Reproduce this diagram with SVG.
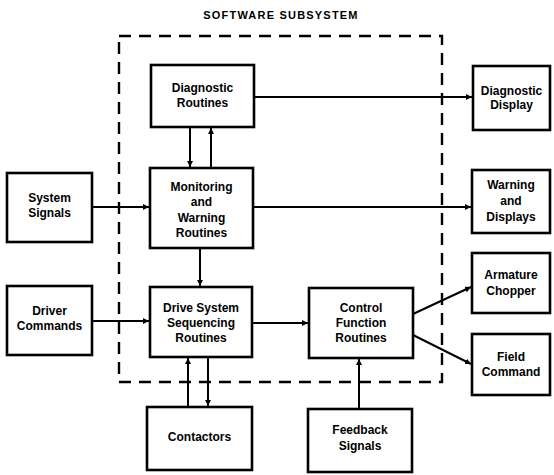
<svg xmlns="http://www.w3.org/2000/svg" width="554" height="475" viewBox="0 0 554 475">
<defs>
<style>
.box{fill:#fff;stroke:#000;stroke-width:2.6}
.lbl{font-family:"Liberation Sans",Arial,sans-serif;font-weight:bold;font-size:12px;text-anchor:middle;fill:#000}
.title{font-family:"Liberation Sans",Arial,sans-serif;font-weight:bold;font-size:11px;letter-spacing:1.2px;text-anchor:middle;fill:#000}
.c{fill:none;stroke:#000;stroke-width:2}
.dash{fill:none;stroke:#000;stroke-width:2.4;stroke-dasharray:12 8}
</style>
<marker id="ah" viewBox="0 0 10 10" refX="10" refY="5" markerWidth="6" markerHeight="6" markerUnits="userSpaceOnUse" orient="auto">
<path d="M0,0 L10,5 L0,10 z" fill="#000"/>
</marker>
</defs>
<rect width="554" height="475" fill="#fff"/>
<text class="title" x="281" y="19">SOFTWARE SUBSYSTEM</text>
<path id="subsystem" class="dash" d="M119,36 H442 V382 H119 Z"/>

<g id="connectors">
<line class="c" x1="254" y1="97" x2="472" y2="97" marker-end="url(#ah)"/>
<line class="c" x1="253" y1="207" x2="471" y2="207" marker-end="url(#ah)"/>
<line class="c" x1="92" y1="207" x2="149" y2="207" marker-end="url(#ah)"/>
<line class="c" x1="92" y1="321" x2="149" y2="321" marker-end="url(#ah)"/>
<line class="c" x1="252" y1="323" x2="308" y2="323" marker-end="url(#ah)"/>
<line class="c" x1="413" y1="314" x2="471" y2="287" marker-end="url(#ah)"/>
<line class="c" x1="413" y1="335" x2="471" y2="364" marker-end="url(#ah)"/>
<line class="c" x1="190" y1="127" x2="190" y2="167" marker-end="url(#ah)"/>
<line class="c" x1="211" y1="168" x2="211" y2="128" marker-end="url(#ah)"/>
<line class="c" x1="200" y1="248" x2="200" y2="286" marker-end="url(#ah)"/>
<line class="c" x1="188" y1="407" x2="188" y2="358" marker-end="url(#ah)"/>
<line class="c" x1="208" y1="357" x2="208" y2="406" marker-end="url(#ah)"/>
<line class="c" x1="359" y1="409" x2="359" y2="359" marker-end="url(#ah)"/>
</g>

<g id="diagnostic-routines">
<rect class="box" x="151" y="65" width="103" height="62"/>
<text class="lbl" x="202.5" y="92">Diagnostic</text>
<text class="lbl" x="202.5" y="107">Routines</text>
</g>
<g id="monitoring">
<rect class="box" x="150" y="168" width="103" height="80"/>
<text class="lbl" x="201.5" y="191">Monitoring</text>
<text class="lbl" x="201.5" y="206">and</text>
<text class="lbl" x="201.5" y="222">Warning</text>
<text class="lbl" x="201.5" y="237">Routines</text>
</g>
<g id="drive-system">
<rect class="box" x="150" y="287" width="102" height="70"/>
<text class="lbl" x="201" y="312">Drive System</text>
<text class="lbl" x="201" y="327">Sequencing</text>
<text class="lbl" x="201" y="342">Routines</text>
</g>
<g id="control-function">
<rect class="box" x="309" y="288" width="104" height="70"/>
<text class="lbl" x="361" y="312">Control</text>
<text class="lbl" x="361" y="327">Function</text>
<text class="lbl" x="361" y="342">Routines</text>
</g>
<g id="contactors">
<rect class="box" x="147" y="407" width="105" height="63"/>
<text class="lbl" x="199.5" y="441">Contactors</text>
</g>
<g id="feedback-signals">
<rect class="box" x="308" y="409" width="104" height="63"/>
<text class="lbl" x="360" y="434">Feedback</text>
<text class="lbl" x="360" y="450">Signals</text>
</g>
<g id="system-signals">
<rect class="box" x="7" y="173" width="85" height="69"/>
<text class="lbl" x="49.5" y="202">System</text>
<text class="lbl" x="49.5" y="217">Signals</text>
</g>
<g id="driver-commands">
<rect class="box" x="7" y="286" width="85" height="69"/>
<text class="lbl" x="49.5" y="315">Driver</text>
<text class="lbl" x="49.5" y="330">Commands</text>
</g>
<g id="diagnostic-display">
<rect class="box" x="473" y="66" width="77" height="64"/>
<text class="lbl" x="511.5" y="95">Diagnostic</text>
<text class="lbl" x="511.5" y="109">Display</text>
</g>
<g id="warning-displays">
<rect class="box" x="472" y="170" width="78" height="63"/>
<text class="lbl" x="511" y="189">Warning</text>
<text class="lbl" x="511" y="205">and</text>
<text class="lbl" x="511" y="221">Displays</text>
</g>
<g id="armature-chopper">
<rect class="box" x="472" y="253" width="78" height="60"/>
<text class="lbl" x="511" y="279">Armature</text>
<text class="lbl" x="511" y="295">Chopper</text>
</g>
<g id="field-command">
<rect class="box" x="472" y="334" width="78" height="61"/>
<text class="lbl" x="511" y="361">Field</text>
<text class="lbl" x="511" y="376">Command</text>
</g>
</svg>
